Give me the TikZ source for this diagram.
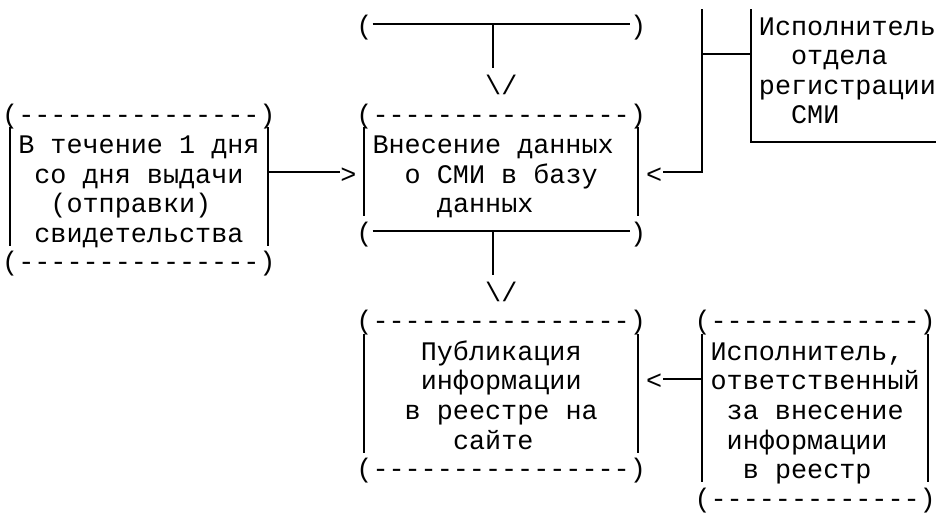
\documentclass[tikz,border=0pt]{standalone}
\usepackage{fontspec}
\newfontfamily\monofont{Liberation Mono}
\tikzset{
  cell/.style={inner sep=0pt, anchor=base west,
    font=\monofont\fontsize{26.8pt}{29.56pt}\selectfont},
  rule/.style={line width=2pt},
}
\begin{document}
\begin{tikzpicture}[x=16.1pt, y=-29.56pt]
  \useasboundingbox (-0.124,-0.812) rectangle (58.32,16.78);
  % coordinates of the line art (col, row)
  \coordinate (topjoin)     at (30.5, 0);
  \coordinate (topstem)     at (30.5, 1.5);
  \coordinate (midjoin)     at (30.5, 7);
  \coordinate (midstem)     at (30.5, 8.5);
  \coordinate (leftport)    at (16.5, 5);
  \coordinate (regtop)      at (43.5,-0.5);
  \coordinate (regcorner)   at (43.5, 5);
  \coordinate (regtee)      at (43.5, 1);
  \coordinate (boxtop)      at (46.5,-0.5);
  \coordinate (boxtee)      at (46.5, 1);
  \coordinate (boxcorner)   at (46.5, 4);
  \coordinate (boxend)      at (58, 4);
  \coordinate (execport)    at (43.5, 12);
  % top bracket
  \node[cell] (topl) at (22,0.35) {(};
  \node[cell] (topr) at (39,0.35) {)};
  \draw[rule] (topl.east |- topjoin) -- (topr.west |- topjoin);
  \draw[rule] (topjoin) -- (topstem);
  \node[cell] (toparrow) at (30,2.38) {\textbackslash/};
  % box: in the course of one day
  \node[cell] (daytop) at (0,3.35) {(---------------)};
  \node[cell] (day1) at (1,4.38) {В течение 1 дня};
  \node[cell] (day2) at (2,5.38) {со дня выдачи};
  \node[cell] (day3) at (3,6.38) {(отправки)};
  \node[cell] (day4) at (2,7.38) {свидетельства};
  \node[cell] (daybot) at (0,8.35) {(---------------)};
  \draw[rule] (0.5,3.5) -- (0.5,7.5);
  \draw[rule] (16.5,3.5) -- (16.5,7.5);
  % box: entering data
  \node[cell] (datatop) at (22,3.35) {(----------------)};
  \node[cell] (data1) at (23,4.38) {Внесение данных};
  \node[cell] (data2) at (25,5.38) {о СМИ в базу};
  \node[cell] (data3) at (27,6.38) {данных};
  \node[cell] (databotl) at (22,7.35) {(};
  \node[cell] (databotr) at (39,7.35) {)};
  \draw[rule] (22.5,3.5) -- (22.5,6.5);
  \draw[rule] (39.5,3.5) -- (39.5,6.5);
  \draw[rule] (databotl.east |- midjoin) -- (databotr.west |- midjoin);
  \draw[rule] (midjoin) -- (midstem);
  \node[cell] (midarrow) at (30,9.38) {\textbackslash/};
  % arrow into the data box
  \node[cell] (datain) at (21,5.38) {>};
  \draw[rule] (leftport) -- (datain.west |- leftport);
  % registration department
  \node[cell] (reg1) at (47,0.38) {Исполнитель};
  \node[cell] (reg2) at (49,1.38) {отдела};
  \node[cell] (reg3) at (47,2.38) {регистрации};
  \node[cell] (reg4) at (49,3.38) {СМИ};
  \draw[rule] (boxtop) -- (boxcorner) -- (boxend);
  \draw[rule] (regtee) -- (boxtee);
  \node[cell] (regin) at (40,5.38) {<};
  \draw[rule] (regtop) -- (regcorner) -- (regin.east |- regcorner);
  % box: publication
  \node[cell] (pubtop) at (22,10.35) {(----------------)};
  \node[cell] (pub1) at (26,11.38) {Публикация};
  \node[cell] (pub2) at (26,12.38) {информации};
  \node[cell] (pub3) at (25,13.38) {в реестре на};
  \node[cell] (pub4) at (28,14.38) {сайте};
  \node[cell] (pubbot) at (22,15.35) {(----------------)};
  \draw[rule] (22.5,10.5) -- (22.5,14.5);
  \draw[rule] (39.5,10.5) -- (39.5,14.5);
  % box: executor for the register
  \node[cell] (exectop) at (43,10.35) {(-------------)};
  \node[cell] (exec1) at (44,11.38) {Исполнитель,};
  \node[cell] (exec2) at (44,12.38) {ответственный};
  \node[cell] (exec3) at (45,13.38) {за внесение};
  \node[cell] (exec4) at (45,14.38) {информации};
  \node[cell] (exec5) at (46,15.38) {в реестр};
  \node[cell] (execbot) at (43,16.35) {(-------------)};
  \draw[rule] (43.5,10.5) -- (43.5,15.5);
  \draw[rule] (57.5,10.5) -- (57.5,15.5);
  \node[cell] (pubin) at (40,12.38) {<};
  \draw[rule] (execport) -- (pubin.east |- execport);
\end{tikzpicture}
\end{document}
